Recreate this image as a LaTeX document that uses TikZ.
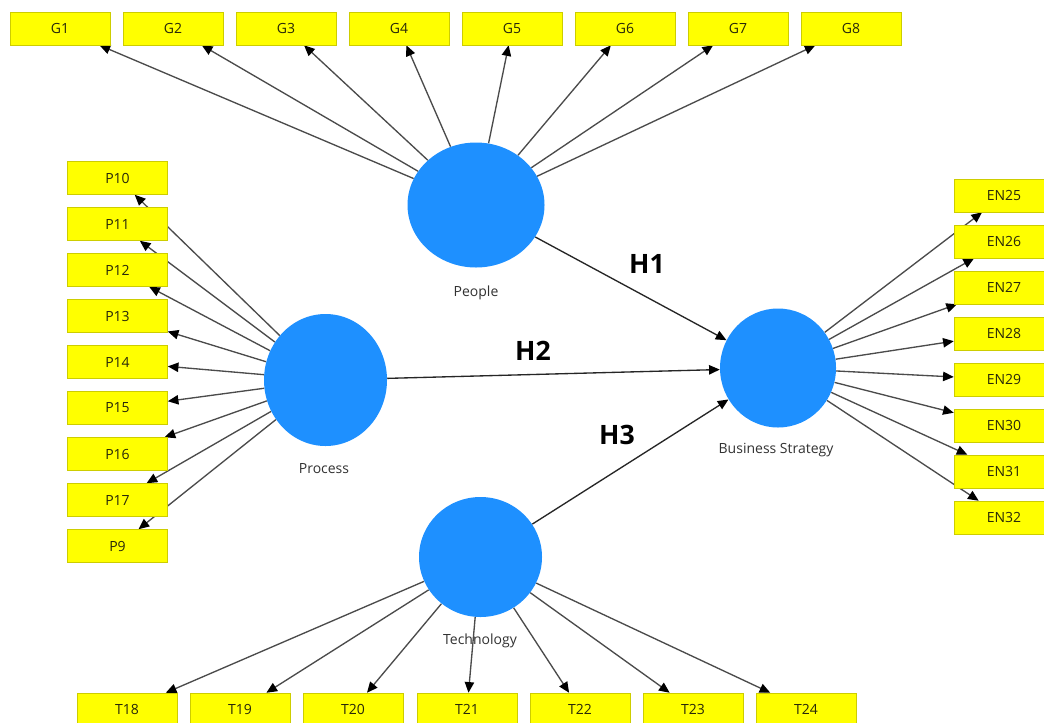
\documentclass[tikz,border=0pt]{standalone}
\usepackage{fontspec}
\setmainfont{Open Sans}
\usetikzlibrary{arrows.meta,shapes.geometric}
\pgfdeclarelayer{bg}
\pgfsetlayers{bg,main}
\definecolor{yellowfill}{RGB}{255,255,0}
\definecolor{yellowborder}{RGB}{205,205,0}
\definecolor{lvblue}{RGB}{30,144,255}
\definecolor{linegray}{RGB}{75,75,75}
\definecolor{boxtext}{RGB}{40,40,10}
\definecolor{labeltext}{RGB}{50,50,50}
\begin{document}
\begin{tikzpicture}[x=0.75pt,y=-0.75pt,
  ind/.style={draw=yellowborder, fill=yellowfill, minimum width=75pt, minimum height=24.75pt, inner sep=0pt, font=\fontsize{10.5}{12}\selectfont, text=boxtext},
  lv/.style={ellipse, fill=lvblue, inner sep=0pt},
  lvlabel/.style={font=\fontsize{10.5}{12}\selectfont, text=labeltext},
  hyp/.style={font=\fontsize{20}{24}\selectfont\bfseries, text=black},
  load/.style={draw=linegray, line width=1pt, -{Triangle[length=8pt,width=7pt,color=black]}},
  hpath/.style={draw=black!85, line width=1pt, -{Triangle[length=8pt,width=7pt,color=black]}}
]
\useasboundingbox (0,0) rectangle (1044,722);

% latent variables
\node[lv, minimum width=102.75pt, minimum height=93.75pt] (people) at (476,205) {};
\node[lv, minimum width=92.25pt, minimum height=99pt] (process) at (325.5,380) {};
\node[lv, minimum width=87pt, minimum height=89.25pt] (bs) at (778,368) {};
\node[lv, minimum width=92.25pt, minimum height=90pt] (tech) at (480.5,557) {};

\node[lvlabel] (lpeople) at (476,293) {People};
\node[lvlabel] (lprocess) at (324,469) {Process};
\node[lvlabel] (lbs) at (776,450) {Business Strategy};
\node[lvlabel] (ltech) at (480,641) {Technology};

% indicators
\foreach \i/\x in {1/60,2/173,3/286,4/399,5/512,6/625,7/738,8/851}
  \node[ind] (g\i) at (\x,28.5) {G\i};
\foreach \n/\y in {10/178,11/224,12/270,13/316,14/362,15/408,16/454,17/500,9/546}
  \node[ind] (p\n) at (117.5,\y) {P\n};
\foreach \n/\y in {25/195.5,26/241.5,27/287.5,28/333.5,29/379.5,30/425.5,31/471.5,32/517.5}
  \node[ind] (en\n) at (1004,\y) {EN\n};
\foreach \n/\x in {18/127,19/240,20/353,21/467,22/580,23/693,24/806}
  \node[ind] (t\n) at (\x,709.5) {T\n};

% hypothesis labels
\node[hyp] (h1) at (647,264) {H1};
\node[hyp] (h2) at (533,351) {H2};
\node[hyp] (h3) at (617,435) {H3};

\begin{pgfonlayer}{bg}
  \fill[white] (0,0) rectangle (1044,722);
  \foreach \i in {1,...,8} \draw[load] (people) -- (g\i);
  \foreach \n in {9,...,17} \draw[load] (process) -- (p\n);
  \foreach \n in {25,...,32} \draw[load] (bs) -- (en\n);
  \foreach \n in {18,...,24} \draw[load] (tech) -- (t\n);
  \draw[hpath] (people) -- (bs);
  \draw[hpath] (process) -- (bs);
  \draw[hpath] (tech) -- (bs);
\end{pgfonlayer}
\end{tikzpicture}
\end{document}
